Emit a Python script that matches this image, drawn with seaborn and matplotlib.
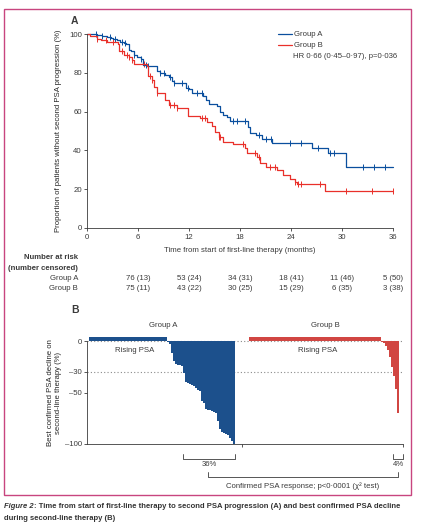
import numpy as np
import pandas as pd
import matplotlib
matplotlib.use("Agg")
import matplotlib.pyplot as plt
import seaborn as sns
from matplotlib.patches import Rectangle
from matplotlib.transforms import blended_transform_factory

BLUE = "#0a4f9e"
RED = "#e9302a"
INK = "#3a3a3a"

# Panel A: Kaplan-Meier steps (months, % without second PSA progression)
a_time = [0, 1.2, 1.8, 2.3, 2.8, 3.1, 3.5, 3.9, 4.3, 4.6, 4.9, 5.2, 5.5, 5.9, 6.3, 6.6, 7.1,
          8.2, 8.6, 9.2, 9.6, 10.0, 10.2, 11.6, 12.0, 12.4, 13.6, 14.0, 14.3, 15.3, 15.6,
          16.0, 16.5, 16.8, 18.9, 19.2, 19.9, 20.6, 21.8, 26.5, 28.3, 30.5, 36]
a_surv = [100, 99.5, 99, 98.5, 98, 97.5, 97, 96, 95.5, 95, 92, 91, 89, 88, 87, 84, 83.5,
          81, 80, 79, 78, 76, 74.5, 72, 71.5, 69.5, 68, 66, 64, 63, 60,
          58, 57, 55, 52, 49, 48, 46, 44, 41, 38.5, 31.5, 31.5]
b_time = [0, 0.4, 1.2, 1.6, 2.4, 3.7, 3.8, 4.3, 4.9, 5.3, 5.5, 7.0, 7.2, 7.6, 7.9, 8.2, 9.2,
          9.6, 10.6, 11.9, 13.3, 14.1, 14.7, 15.1, 15.5, 16.0, 17.2, 18.6, 18.8, 20.0, 20.4,
          21.1, 22.3, 23.1, 23.9, 24.5, 24.7, 28.0, 36]
b_surv = [100, 98.8, 97.4, 96.7, 95.9, 94.8, 91, 89.3, 88.1, 86.7, 84.5, 83.6, 78.4, 76.4,
          72.6, 69.5, 66, 63.4, 61.7, 57.8, 56.6, 54.8, 52.6, 49.7, 47, 44.5, 43.1, 41, 38.8,
          36.7, 33.3, 31.6, 29.8, 27.2, 25.5, 23.8, 22.9, 19.1, 19.1]
a_cens = [1.0, 1.8, 2.7, 3.3, 4.1, 4.5, 5.5, 6.3, 6.9, 7.2, 8.6, 9.0, 9.8, 10.2, 11.2, 11.9,
          12.9, 13.5, 17.2, 17.6, 18.6, 20.2, 21.1, 21.7, 23.9, 25.2, 27.2, 28.6, 29.0, 32.5,
          33.8, 35.0]
b_cens = [1.2, 2.2, 3.1, 4.1, 4.7, 4.9, 5.3, 6.7, 7.4, 7.6, 8.2, 9.8, 10.2, 10.6, 13.5, 13.9,
          15.5, 15.7, 18.4, 19.8, 20.2, 21.5, 22.1, 24.5, 24.8, 25.2, 27.4, 30.5, 33.5, 36.0]

risk_months = [6, 12, 18, 24, 30, 36]
risk_a = ["76 (13)", "53 (24)", "34 (31)", "18 (41)", "11 (46)", "5 (50)"]
risk_b = ["75 (11)", "43 (22)", "30 (25)", "15 (29)", "6 (35)", "3 (38)"]

# Panel B: best confirmed PSA decline (%), rising PSA shown as capped small bars
a_rising = [4] * 39
a_decline = [-1, -3, -12, -19, -22, -23, -23, -24, -31, -40, -41, -42, -43, -44, -46, -48,
             -49, -58, -60, -66, -67, -67, -68, -69, -70, -78, -85, -88, -89, -90, -91, -94,
             -97, -100]
b_rising = [4] * 66
b_decline = [-1, -2, -5, -9, -16, -25, -34, -47, -70]

W, H = 421, 523


def box(l, t, r, b):
    return [l / W, 1 - b / H, (r - l) / W, (b - t) / H]


def fx(px):
    return px / W


def fy(px):
    return 1 - px / H


def at(times, surv, t):
    idx = np.searchsorted(times, t, side="right") - 1
    return np.asarray(surv)[idx]


sns.set_theme(style="ticks")
plt.rcParams["font.family"] = ["Liberation Sans Narrow", "Liberation Sans", "DejaVu Sans"]
plt.rcParams.update({
    "font.size": 5.6,
    "axes.edgecolor": INK,
    "axes.linewidth": 0.6,
    "xtick.color": INK,
    "ytick.color": INK,
    "xtick.labelcolor": INK,
    "ytick.labelcolor": INK,
    "xtick.labelsize": 5.6,
    "ytick.labelsize": 5.6,
    "xtick.major.size": 2.5,
    "ytick.major.size": 2.5,
    "xtick.major.width": 0.6,
    "ytick.major.width": 0.6,
    "xtick.major.pad": 1.5,
    "ytick.major.pad": 1.2,
    "text.color": INK,
})

fig = plt.figure(figsize=(4.21, 5.23), dpi=100)

# ---------------- Panel A ----------------
axa = fig.add_axes(box(87, 34, 393, 228))
sns.lineplot(x=a_time, y=a_surv, drawstyle="steps-post", color=BLUE, lw=0.9,
             estimator=None, ax=axa, clip_on=False, label="Group A")
sns.lineplot(x=b_time, y=b_surv, drawstyle="steps-post", color=RED, lw=0.9,
             estimator=None, ax=axa, clip_on=False, label="Group B")
sns.scatterplot(x=a_cens, y=at(a_time, a_surv, a_cens), marker="|", s=14, color=BLUE,
                linewidth=0.7, ax=axa, clip_on=False, legend=False)
sns.scatterplot(x=b_cens, y=at(b_time, b_surv, b_cens), marker="|", s=14, color=RED,
                linewidth=0.7, ax=axa, clip_on=False, legend=False)
axa.set_xlim(0, 36)
axa.set_ylim(0, 100)
axa.set_xticks(range(0, 37, 6))
axa.set_yticks(range(0, 101, 20))
sns.despine(ax=axa)
axa.set_xlabel("")
axa.set_ylabel("Proportion of patients without second PSA progression (%)", fontsize=5.6)
axa.yaxis.set_label_coords((62 - 87) / 306, 0.5)
axa.legend(loc="upper left", bbox_to_anchor=(fx(278), fy(31)), bbox_transform=fig.transFigure,
           frameon=False, borderpad=0, borderaxespad=0, handlelength=1.8, handletextpad=0.3,
           labelspacing=0.45, fontsize=5.6)
fig.text(fx(293), fy(57), "HR 0·66 (0·45–0·97), p=0·036", va="center", fontsize=5.6)
fig.text(fx(78), fy(21), "A", weight="bold", fontsize=7.5, va="center", ha="right")
fig.text(fx(240), fy(251), "Time from start of first-line therapy (months)", ha="center",
         va="center", fontsize=5.6)

fig.text(fx(78), fy(257), "Number at risk", ha="right", va="center", weight="bold")
fig.text(fx(78), fy(268), "(number censored)", ha="right", va="center", weight="bold")
fig.text(fx(78), fy(279), "Group A", ha="right", va="center")
fig.text(fx(78), fy(289), "Group B", ha="right", va="center")
tr = blended_transform_factory(axa.transData, fig.transFigure)
for m, sa, sb in zip(risk_months, risk_a, risk_b):
    fig.text(m, fy(279), sa, transform=tr, ha="center", va="center")
    fig.text(m, fy(289), sb, transform=tr, ha="center", va="center")

# ---------------- Panel B ----------------
axb = fig.add_axes(box(87, 341 - 5 * 1.03, 403, 444))
gap = 7
na = len(a_rising) + len(a_decline)
nb = len(b_rising) + len(b_decline)
wf = pd.DataFrame({
    "pos": np.r_[np.arange(na), np.arange(nb) + na + gap],
    "val": a_rising + a_decline + b_rising + b_decline,
    "group": ["A"] * na + ["B"] * nb,
    "kind": ["rise"] * len(a_rising) + ["drop"] * len(a_decline)
            + ["rise"] * len(b_rising) + ["drop"] * len(b_decline),
})
pal = {"A": BLUE, "B": RED}
axb.axhline(0, ls=(0, (1, 2)), color="#8a8a8a", lw=0.8, zorder=0)
axb.axhline(-30, ls=(0, (1, 2)), color="#8a8a8a", lw=0.8, zorder=0)
sns.barplot(data=wf[wf.kind == "rise"], x="pos", y="val", hue="group", palette=pal,
            native_scale=True, dodge=False, width=0.55, errorbar=None, linewidth=0,
            legend=False, ax=axb)
n_rise = len(axb.patches)
sns.barplot(data=wf[wf.kind == "drop"], x="pos", y="val", hue="group", palette=pal,
            native_scale=True, dodge=False, width=1.0, errorbar=None, linewidth=0,
            legend=False, ax=axb)
for p in axb.patches[n_rise:]:
    p.set_antialiased(False)
    p.set_zorder(2)
axb.set_xlim(-1.5, na + gap + nb + 1.5)
axb.set_ylim(-100, 5)
axb.set_yticks([0, -30, -50, -100])
axb.set_yticklabels(["0", "–30", "–50", "–100"])
axb.set_xticks([na + gap / 2 - 0.5, na + gap + nb + 1.5])
axb.set_xticklabels([])
sns.despine(ax=axb)
axb.spines["left"].set_bounds(-100, 0)
axb.set_xlabel("")
axb.set_ylabel("Best confirmed PSA decline on\nsecond-line therapy (%)", fontsize=5.6,
               linespacing=1.3)
axb.yaxis.set_label_coords((62 - 87) / 316, (444 - 393) / 108.15)

axb.text(na / 2, 14.6, "Group A", ha="center", va="center", clip_on=False)
axb.text(na + gap + nb / 2, 14.6, "Group B", ha="center", va="center", clip_on=False)
axb.text(22.5, -9.7, "Rising PSA", ha="center", va="center")
axb.text(114, -9.7, "Rising PSA", ha="center", va="center")


def bracket(x0, x1, ytop, ybot, label, ylab):
    axb.plot([x0, x0, x1, x1], [ytop, ybot, ybot, ytop], color=INK, lw=0.6, clip_on=False)
    axb.text((x0 + x1) / 2, ylab, label, ha="center", va="center", clip_on=False)


resp_a = sum(v <= -30 for v in a_decline)
resp_b = sum(v <= -30 for v in b_decline)
bracket(na - resp_a - 0.5, na - 0.5, -110, -114.5,
        f"{round(100 * resp_a / na)}%", -120)
bracket(na + gap + nb - resp_b - 0.5, na + gap + nb + 1.5, -110, -114.5,
        f"{round(100 * resp_b / nb)}%", -120)
bracket(59, 154, -127.5, -132, "Confirmed PSA response; p<0·0001 (χ² test)", -140.5)

fig.text(fx(79), fy(310), "B", weight="bold", fontsize=7.5, va="center", ha="right")

# ---------------- frame and caption ----------------
fig.add_artist(Rectangle((fx(4), fy(495)), fx(407), (495 - 9) / H, transform=fig.transFigure,
                         fill=False, edgecolor="#c8457f", lw=1.0))
t1 = fig.text(fx(4), fy(507), "Figure 2", style="italic", weight="bold", fontsize=5.5,
              va="center", color="#333333")
axa.annotate(": Time from start of first-line therapy to second PSA progression (A) and best "
             "confirmed PSA decline", xy=(1, 0.5), xycoords=t1, va="center", ha="left",
             weight="bold", fontsize=5.5, color="#333333", annotation_clip=False)
fig.text(fx(4), fy(519), "during second-line therapy (B)", weight="bold", fontsize=5.5,
         va="center", color="#333333")

fig.savefig("out.png", dpi=100)
